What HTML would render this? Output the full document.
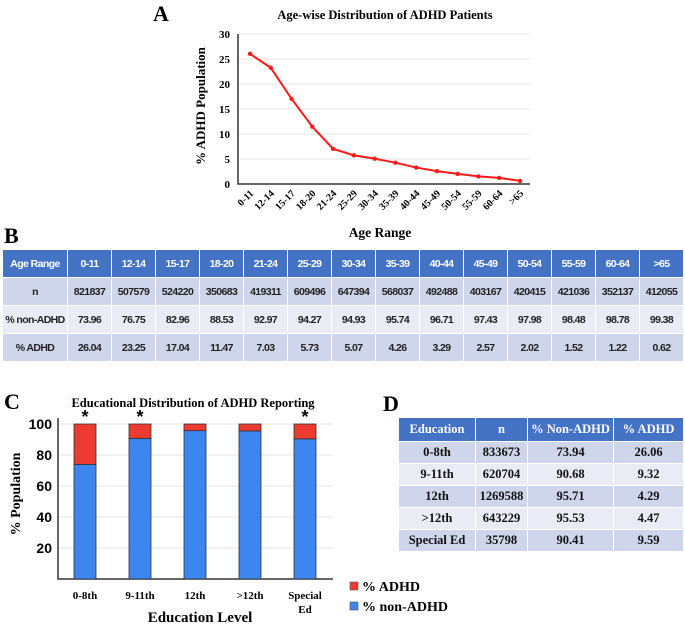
<!DOCTYPE html>
<html><head><meta charset="utf-8"><style>
body{margin:0;width:685px;height:624px;background:#fff;position:relative;overflow:hidden;font-family:"Liberation Serif",serif}
.abs{position:absolute}
table{border-collapse:collapse;position:absolute;table-layout:fixed}
#tb td{font-family:"Liberation Sans",sans-serif;font-weight:bold;font-size:10.5px;text-align:center;border:1.5px solid #fff;height:27px;padding:0;color:#222;letter-spacing:-0.6px;white-space:nowrap;overflow:hidden}
#tb tr.h td{background:#4472c4;color:#fff}
#tb tr.d td{background:#cfd5ea}
#tb tr.l td{background:#e9ebf5}
#td td{font-family:"Liberation Serif",serif;font-weight:bold;font-size:12.5px;text-align:center;border:1.5px solid #fff;height:21px;padding:0;color:#111}
#td tr.h td{background:#4472c4;color:#fff;height:23px}
#td tr.d td{background:#cfd5ea}
#td tr.l td{background:#e9ebf5}
</style></head><body>
<svg class="abs" style="left:0;top:0" width="685" height="624">
<g id="chartA"></g>
<g id="chartC"></g>
</svg>

<table id="tb" style="left:2px;top:249px;width:681px">
<colgroup><col style="width:65px"><col span="14" style="width:44px"></colgroup>
<tr class="h"><td>Age Range</td><td>0-11</td><td>12-14</td><td>15-17</td><td>18-20</td><td>21-24</td><td>25-29</td><td>30-34</td><td>35-39</td><td>40-44</td><td>45-49</td><td>50-54</td><td>55-59</td><td>60-64</td><td>&gt;65</td></tr>
<tr class="d"><td>n</td><td>821837</td><td>507579</td><td>524220</td><td>350683</td><td>419311</td><td>609496</td><td>647394</td><td>568037</td><td>492488</td><td>403167</td><td>420415</td><td>421036</td><td>352137</td><td>412055</td></tr>
<tr class="l"><td>% non-ADHD</td><td>73.96</td><td>76.75</td><td>82.96</td><td>88.53</td><td>92.97</td><td>94.27</td><td>94.93</td><td>95.74</td><td>96.71</td><td>97.43</td><td>97.98</td><td>98.48</td><td>98.78</td><td>99.38</td></tr>
<tr class="d"><td>% ADHD</td><td>26.04</td><td>23.25</td><td>17.04</td><td>11.47</td><td>7.03</td><td>5.73</td><td>5.07</td><td>4.26</td><td>3.29</td><td>2.57</td><td>2.02</td><td>1.52</td><td>1.22</td><td>0.62</td></tr>
</table>

<table id="td" style="left:398px;top:417px;width:285px">
<colgroup><col style="width:77px"><col style="width:52px"><col style="width:86px"><col style="width:70px"></colgroup>
<tr class="h"><td>Education</td><td>n</td><td>% Non-ADHD</td><td>% ADHD</td></tr>
<tr class="d"><td>0-8th</td><td>833673</td><td>73.94</td><td>26.06</td></tr>
<tr class="l"><td>9-11th</td><td>620704</td><td>90.68</td><td>9.32</td></tr>
<tr class="d"><td>12th</td><td>1269588</td><td>95.71</td><td>4.29</td></tr>
<tr class="l"><td>&gt;12th</td><td>643229</td><td>95.53</td><td>4.47</td></tr>
<tr class="d"><td>Special Ed</td><td>35798</td><td>90.41</td><td>9.59</td></tr>
</table>

<div class="abs" style="left:4px;top:223px;font-size:22px;font-weight:bold">B</div>
<div class="abs" style="left:383px;top:391px;font-size:22px;font-weight:bold">D</div>

<script>
const ageCats=["0-11","12-14","15-17","18-20","21-24","25-29","30-34","35-39","40-44","45-49","50-54","55-59","60-64",">65"];
const adhdPct=[26.04,23.25,17.04,11.47,7.03,5.73,5.07,4.26,3.29,2.57,2.02,1.52,1.22,0.62];
const aTicks=[0,5,10,15,20,25,30];
const eduCats=["0-8th","9-11th","12th",">12th","Special Ed"];
const eduNon=[73.94,90.68,95.71,95.53,90.41];
const eduAdhd=[26.06,9.32,4.29,4.47,9.59];
const eduSig=[true,true,false,false,true];
const cTicks=[20,40,60,80,100];

const NS="http://www.w3.org/2000/svg";
function mk(p,tag,at,txt){const e=document.createElementNS(NS,tag);for(const k in at)e.setAttribute(k,at[k]);if(txt!=null)e.textContent=txt;p.appendChild(e);return e;}

// Chart A
const A=document.getElementById('chartA');
const ax0=238,ax1=530,ay0=184,ay1=34;
const yA=v=>ay0-(v/30)*(ay0-ay1);
const xA=i=>250+i*(520-250)/(ageCats.length-1);
let t=mk(A,'text',{x:153,y:21,'font-size':22,'font-weight':'bold'},'A');

t=mk(A,'text',{x:385,y:19,'font-size':12.5,'font-weight':'bold','text-anchor':'middle'},'Age-wise Distribution of ADHD Patients');

aTicks.forEach(v=>{
  if(v>0){const g=mk(A,'line',{x1:ax0,x2:ax1,y1:yA(v),y2:yA(v),stroke:'#e4e4e4','stroke-width':1});
  }
  const l=mk(A,'text',{x:ax0-8,y:yA(v)+4,'font-size':11,'font-weight':'bold','text-anchor':'end'},String(v));
  
});
let ln=mk(A,'polyline',{points:`${ax0},${ay1} ${ax0},${ay0} ${ax1},${ay0}`,fill:'none',stroke:'#333','stroke-width':1.5});

const pts=adhdPct.map((v,i)=>xA(i)+','+yA(v)).join(' ');
ln=mk(A,'polyline',{points:pts,fill:'none',stroke:'#ff1a1a','stroke-width':2});

adhdPct.forEach((v,i)=>{
  const c=mk(A,'circle',{cx:xA(i),cy:yA(v),r:2.2,fill:'#ff1a1a'});
  
});
ageCats.forEach((c,i)=>{
  const x=xA(i)+4,y=194;
  const l=mk(A,'text',{x:x,y:y,'font-size':10,'font-weight':'bold','text-anchor':'end',transform:`rotate(-45 ${x} ${y})`},c);
  
});
t=mk(A,'text',{x:380,y:237,'font-size':13.5,'font-weight':'bold','text-anchor':'middle'},'Age Range');

t=mk(A,'text',{x:0,y:0,'font-size':13,'font-weight':'bold','text-anchor':'middle',transform:'translate(205,106) rotate(-90)'},'% ADHD Population');


// Chart C
const C=document.getElementById('chartC');
const cx0=58,cx1=333,cy0=579,cy100=424;
const yC=v=>cy0-(v/100)*(cy0-cy100);
const xC=i=>85+i*55;
t=mk(C,'text',{x:4,y:409,'font-size':22,'font-weight':'bold'},'C');

t=mk(C,'text',{x:193,y:407,'font-size':12.5,'font-weight':'bold','text-anchor':'middle'},'Educational Distribution of ADHD Reporting');

cTicks.forEach(v=>{
  const g=mk(C,'line',{x1:cx0,x2:cx1,y1:yC(v),y2:yC(v),stroke:'#e4e4e4','stroke-width':1});
  
  const l=mk(C,'text',{x:cx0-6,y:yC(v)+5,'font-family':'Liberation Sans, sans-serif','font-size':14,'font-weight':'bold','text-anchor':'end'},String(v));
  
});
ln=mk(C,'polyline',{points:`${cx0},${cy100-6} ${cx0},${cy0} ${cx1},${cy0}`,fill:'none',stroke:'#333','stroke-width':1.5});

eduCats.forEach((c,i)=>{
  const x=xC(i)-11;
  const b=mk(C,'rect',{x:x,y:yC(eduNon[i]),width:22,height:yC(0)-yC(eduNon[i]),fill:'#3d85f0',stroke:'#333','stroke-width':0.8});
  
  const r=mk(C,'rect',{x:x,y:yC(eduNon[i]+eduAdhd[i]),width:22,height:yC(eduNon[i])-yC(eduNon[i]+eduAdhd[i]),fill:'#ee3b2f',stroke:'#333','stroke-width':0.8});
  
  if(eduSig[i]){const s=mk(C,'text',{x:xC(i),y:yC(100)-1,'font-family':'Liberation Sans, sans-serif','font-size':18,'font-weight':'bold','text-anchor':'middle'},'*');
    }
  const parts=c.split(' ');
  parts.forEach((p,k)=>{
    const l=mk(C,'text',{x:xC(i),y:599+k*14,'font-size':11,'font-weight':'bold','text-anchor':'middle'},p);
    
  });
});
t=mk(C,'text',{x:200,y:622,'font-size':15,'font-weight':'bold','text-anchor':'middle'},'Education Level');

t=mk(C,'text',{x:0,y:0,'font-size':14,'font-weight':'bold','text-anchor':'middle',transform:'translate(20,494) rotate(-90)'},'% Population');

[['% ADHD','#ee3b2f',587],['% non-ADHD','#3d85f0',607]].forEach(([lab,col,y])=>{
  const s=mk(C,'rect',{x:350,y:y-5,width:8,height:8,fill:col,stroke:'#555','stroke-width':0.6});
  
  const l=mk(C,'text',{x:362,y:y+4,'font-size':14,'font-weight':'bold'},lab);
  
});
</script>
</body></html>
